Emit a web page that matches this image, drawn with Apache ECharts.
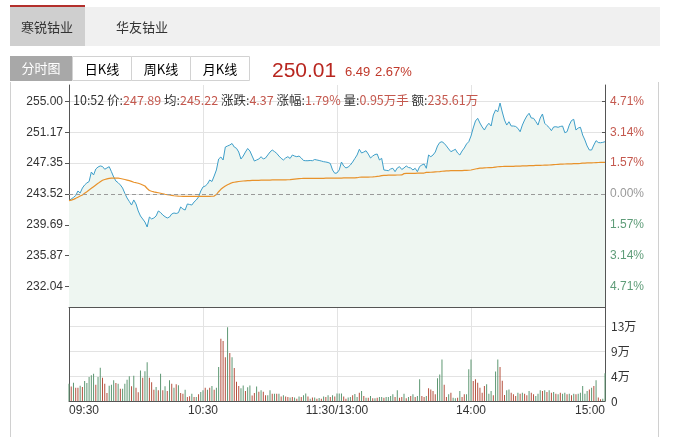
<!DOCTYPE html>
<html><head><meta charset="utf-8">
<script src="https://cdn.jsdelivr.net/npm/echarts@6/dist/echarts.min.js"></script>
<style>html,body{margin:0;padding:0;background:#fff}#c{width:675px;height:437px}</style>
</head><body><div id="c"></div>
<script>
var basePrice = 243.52;
var priceTicks = [232.04, 235.87, 239.69, 243.52, 247.35, 251.17, 255.00];
var pctLabels = ['4.71%', '3.14%', '1.57%', '0.00%', '1.57%', '3.14%', '4.71%'];
var volTicks = [0, 4.333, 8.667, 13];
var volLabels = ['0', '4万', '9万', '13万'];
var xTickIndex = [0, 60, 120, 180, 240];
var xTickLabels = ['09:30', '10:30', '11:30/13:00', '14:00', '15:00'];

var price = [
242.70,242.90,243.09,243.33,243.89,243.64,244.26,244.64,244.89,245.07,
246.25,245.88,246.62,246.87,247.00,246.93,246.59,246.75,246.91,246.29,
245.63,245.13,244.92,244.64,244.26,243.60,243.02,242.59,242.15,242.78,
242.28,241.41,240.79,240.42,240.04,239.42,240.66,240.42,240.54,240.79,
241.41,241.22,240.91,240.70,240.54,240.66,241.04,241.16,241.10,241.20,
241.91,241.66,241.53,242.28,242.22,242.15,242.53,242.78,243.15,243.89,
244.39,244.51,244.76,245.26,245.07,245.75,246.50,247.86,248.11,247.74,
249.35,249.48,249.60,249.79,249.35,249.19,248.73,247.86,248.23,248.73,
249.17,248.86,248.23,247.61,247.74,247.86,248.15,247.86,247.99,248.36,
248.73,248.98,248.79,248.57,248.23,247.95,247.74,247.99,248.15,247.93,
248.36,248.23,248.15,248.23,247.99,247.68,247.65,247.65,247.68,247.65,
247.80,247.74,247.68,247.61,247.53,247.49,247.43,247.31,246.50,246.09,
246.13,246.50,247.49,247.00,246.75,246.87,247.12,247.49,247.93,248.36,
249.07,248.61,248.73,248.89,248.48,247.99,248.23,248.42,248.48,247.74,
247.95,246.50,246.46,246.41,246.62,246.71,246.29,246.75,246.91,246.56,
246.75,247.00,246.81,246.75,246.50,246.71,246.29,246.93,247.12,247.24,
246.71,248.36,248.15,248.36,248.73,249.48,249.91,250.01,249.81,249.48,
249.11,248.77,248.92,249.07,248.61,248.36,248.86,249.23,249.73,250.01,
250.72,251.71,252.58,252.92,252.33,251.84,251.46,251.96,252.30,251.96,
253.33,253.95,253.73,254.81,253.70,252.70,252.08,252.49,251.96,251.96,
251.90,251.67,251.25,252.08,252.70,253.20,253.54,252.95,252.92,252.52,
252.08,252.95,253.45,252.30,252.02,251.77,251.38,251.84,251.87,251.80,
251.90,251.96,251.13,251.25,252.08,252.64,252.79,251.46,251.71,251.80,
250.84,250.22,249.48,248.98,248.98,249.60,250.14,249.91,249.88,249.93,
250.01
];

var avgPrice = [
242.70,242.76,242.85,242.98,243.12,243.26,243.40,243.60,243.80,244.02,
244.22,244.43,244.64,244.84,245.05,245.22,245.32,245.40,245.46,245.49,
245.50,245.50,245.48,245.44,245.38,245.32,245.25,245.17,245.08,244.98,
244.92,244.85,244.76,244.64,244.51,244.20,243.95,243.86,243.79,243.73,
243.67,243.61,243.55,243.49,243.44,243.39,243.34,243.30,243.27,243.25,
243.24,243.23,243.23,243.22,243.22,243.22,243.22,243.22,243.22,243.22,
243.22,243.22,243.22,243.23,243.24,243.26,243.45,243.80,244.10,244.32,
244.51,244.66,244.80,244.92,244.98,245.03,245.07,245.10,245.13,245.15,
245.17,245.19,245.20,245.21,245.22,245.22,245.23,245.24,245.24,245.25,
245.25,245.26,245.27,245.27,245.27,245.28,245.28,245.28,245.29,245.30,
245.34,245.37,245.40,245.42,245.44,245.45,245.45,245.46,245.46,245.46,
245.47,245.47,245.47,245.47,245.47,245.48,245.48,245.48,245.48,245.49,
245.50,245.50,245.50,245.51,245.51,245.51,245.51,245.52,245.52,245.54,
245.60,245.61,245.61,245.62,245.62,245.63,245.64,245.66,245.70,245.74,
245.80,245.82,245.84,245.85,245.86,245.86,245.87,245.88,245.88,245.89,
246.05,246.07,246.08,246.08,246.09,246.09,246.10,246.10,246.11,246.12,
246.20,246.21,246.22,246.24,246.26,246.28,246.30,246.34,246.36,246.38,
246.40,246.41,246.41,246.42,246.42,246.43,246.43,246.44,246.45,246.47,
246.50,246.56,246.62,246.68,246.72,246.74,246.76,246.78,246.79,246.80,
246.82,246.86,246.90,246.92,246.93,246.94,246.95,246.95,246.96,246.96,
246.97,246.98,246.99,247.00,247.01,247.02,247.03,247.04,247.05,247.06,
247.07,247.08,247.09,247.10,247.11,247.12,247.14,247.16,247.18,247.20,
247.22,247.23,247.24,247.25,247.26,247.27,247.28,247.29,247.30,247.32,
247.35,247.36,247.37,247.38,247.39,247.40,247.42,247.43,247.44,247.44,
247.45
];

var volume = [
3.0,2.5,3.18,2.31,2.31,2.66,2.43,3.47,3.12,4.16,
4.45,4.74,2.83,4.16,5.78,4.04,3.0,1.39,2.66,2.83,
3.58,3.12,3.0,2.14,2.14,3.0,3.7,4.27,2.54,4.39,
2.31,1.5,5.3,4.04,5.14,6.7,4.04,3.23,1.96,2.43,
1.85,4.74,1.85,2.54,1.73,3.58,3.0,2.31,2.89,2.71,
1.39,1.27,1.96,0.69,0.81,1.27,0.69,0.69,1.16,1.56,
1.85,2.3,1.96,2.3,2.6,1.96,2.3,5.9,10.8,10.4,
7.6,12.8,8.3,7.6,5.7,3.35,2.6,2.2,2.7,1.73,
2.4,2.7,0.95,1.4,2.5,1.6,1.85,1.6,1.0,1.0,
1.85,1.27,1.27,1.27,1.27,0.8,1.0,0.8,0.7,0.6,
0.7,0.6,0.4,0.8,0.7,1.0,1.3,0.8,0.4,0.6,
0.6,0.4,0.5,0.4,0.8,0.7,1.0,0.7,1.0,0.8,
1.3,1.3,1.3,0.8,0.4,0.6,0.7,1.0,1.2,0.7,
1.44,1.73,0.87,0.58,0.58,0.87,0.46,0.46,0.58,0.69,
0.69,0.58,0.69,0.69,0.87,1.15,0.69,1.85,0.58,0.69,
1.27,0.46,0.69,0.87,1.15,0.69,0.87,3.75,0.87,0.69,
0.87,2.2,2.0,1.73,1.15,3.93,4.6,7.2,2.8,0.69,
1.15,1.44,0.58,0.46,0.58,1.73,0.69,1.15,1.15,5.5,
7.2,3.47,3.75,3.18,2.3,1.44,2.6,2.9,1.27,1.73,
1.0,5.1,7.2,5.9,3.5,1.04,1.85,2.0,1.44,1.15,
0.87,1.44,1.27,1.44,1.27,1.0,1.73,1.44,1.15,0.87,
1.27,1.85,1.73,1.85,1.56,1.85,1.44,1.56,1.27,1.15,
1.44,1.27,1.44,1.15,1.27,1.0,1.27,1.15,1.27,1.44,
2.6,1.27,1.73,2.0,2.3,2.6,3.6,0.6,0.3,0.4,
4.8
];

// r = red bar, g = green bar
var volDir = 'grgrrgrggg' + 'ggrggrrrgg' + 'grgrggggrg' + 'rrgrggrrrg' + 'rgrgrgrgrg' +
  'rrgrrgrgrg' + 'grgrgrggrr' + 'rgrgrrrggr' + 'ggrrgrgrrg' + 'grgrgrgrrg' +
  'rgrgrggrgr' + 'grgrgrgrgr' + 'gggrrggrgg' + 'rgrgrgrgrg' + 'grggggrgrr' +
  'grgrgrggrr' + 'grrrrgggrr' + 'grggrgrrgg' + 'grrrrrrggg' + 'rggrrrggrr' +
  'rgrgrrgrrg' + 'ggrgrgrgrg' + 'rggrgrgrgg' + 'gggrgrgrrg' + 'g';

// minute categories
var times = [];
(function () {
  function pad(n) { return (n < 10 ? '0' : '') + n; }
  for (var i = 0; i <= 240; i++) {
    var m = i <= 120 ? 9 * 60 + 30 + i : 13 * 60 + (i - 120);
    times.push(pad(Math.floor(m / 60)) + ':' + pad(m % 60));
  }
})();

var RED = '#c4584e', GREEN = '#5e9c78', GRID = '#e3e3e3', AXIS = '#555';
var FONT = '"Liberation Sans", "Noto Sans CJK SC", sans-serif';
var CJK = '"Noto Sans CJK SC", "Liberation Sans", sans-serif';
var pMin = 229.49, pMax = 257.05;

function xLabelFmt(v, idx) { var k = xTickIndex.indexOf(idx); return k >= 0 ? xTickLabels[k] : ''; }
function isXTick(idx) { return xTickIndex.indexOf(idx) >= 0; }
function isInnerXTick(idx) { return idx > 0 && idx < 240 && isXTick(idx); }

var chart = echarts.init(document.getElementById('c'), null, { renderer: 'canvas' });
var tabRich = { a: { fontSize: 13, fontFamily: CJK, color: '#333', lineHeight: 16 }, k: { fontSize: 13, fontFamily: CJK, color: '#8f9a86', lineHeight: 16 } };
var option = {
  animation: false,
  textStyle: { fontFamily: FONT },
  grid: [
    { left: 69, top: 85, width: 536, height: 222 },
    { left: 69, top: 307, width: 536, height: 94 }
  ],
  xAxis: [
    { type: 'category', gridIndex: 0, data: times, boundaryGap: false,
      axisLine: { show: true, lineStyle: { color: AXIS, width: 1 } },
      axisTick: { show: false }, axisLabel: { show: false },
      splitLine: { show: true, interval: function (i) { return isInnerXTick(i); }, lineStyle: { color: GRID } } },
    { type: 'category', gridIndex: 1, data: times, boundaryGap: false,
      axisLine: { show: true, lineStyle: { color: AXIS, width: 1 } },
      axisTick: { show: false },
      axisLabel: { show: true, interval: function (i) { return isXTick(i); }, formatter: xLabelFmt,
        color: '#333', fontSize: 12, fontFamily: FONT, margin: 4, alignMinLabel: 'left', alignMaxLabel: 'right' },
      splitLine: { show: true, interval: function (i) { return isInnerXTick(i); }, lineStyle: { color: GRID } } }
  ],
  yAxis: [
    { type: 'value', gridIndex: 0, position: 'left', min: pMin, max: pMax, scale: true,
      axisLine: { show: true, lineStyle: { color: AXIS } },
      axisTick: { show: true, length: 4, customValues: priceTicks, lineStyle: { color: AXIS } },
      axisLabel: { customValues: priceTicks, color: '#333', fontSize: 12, fontFamily: FONT, margin: 6,
        formatter: function (v) { return Number(v).toFixed(2); } },
      splitLine: { show: true, lineStyle: { color: GRID } } },
    { type: 'value', gridIndex: 0, position: 'right', min: pMin, max: pMax, scale: true,
      axisLine: { show: true, lineStyle: { color: AXIS } },
      axisTick: { show: true, length: 3, inside: true, customValues: priceTicks, lineStyle: { color: AXIS } },
      axisLabel: { customValues: priceTicks, fontSize: 12, fontFamily: FONT, margin: 5,
        formatter: function (v) {
          var k = -1, d = 1e9;
          priceTicks.forEach(function (t, j) { var e = Math.abs(t - v); if (e < d) { d = e; k = j; } });
          return pctLabels[priceTicks.length - 1 - k];
        },
        color: function (v) { v = Number(v); return Math.abs(v - basePrice) < 0.01 ? '#9a9a9a' : (v > basePrice ? RED : GREEN); } },
      splitLine: { show: false } },
    { type: 'value', gridIndex: 1, position: 'left', min: 0, max: 16.29,
      axisLine: { show: true, lineStyle: { color: AXIS } },
      axisTick: { show: false, customValues: volTicks }, axisLabel: { show: false, customValues: volTicks },
      splitLine: { show: true, lineStyle: { color: GRID } } },
    { type: 'value', gridIndex: 1, position: 'right', min: 0, max: 16.29,
      axisLine: { show: true, lineStyle: { color: AXIS } },
      axisTick: { show: false, customValues: volTicks },
      axisLabel: { customValues: volTicks, color: '#333', fontSize: 12, fontFamily: CJK, margin: 6,
        formatter: function (v) {
          var k = 0, d = 1e9;
          volTicks.forEach(function (t, j) { var e = Math.abs(t - v); if (e < d) { d = e; k = j; } });
          return volLabels[k];
        } },
      splitLine: { show: false } }
  ],
  series: [
    { name: 'price', type: 'line', xAxisIndex: 0, yAxisIndex: 0, data: price, symbol: 'none', silent: true,
      lineStyle: { color: '#3d9ec9', width: 1 },
      areaStyle: { color: '#eef6f1', opacity: 1, origin: 'start' },
      markLine: { silent: true, symbol: ['none', 'none'], label: { show: false },
        lineStyle: { color: '#9a9a9a', type: [4, 3], width: 1 }, data: [{ yAxis: basePrice }] },
      z: 3 },
    { name: 'avg', type: 'line', xAxisIndex: 0, yAxisIndex: 0, data: avgPrice, symbol: 'none', silent: true,
      lineStyle: { color: '#e8922b', width: 1.2 }, z: 4 },
    { name: 'vol', type: 'bar', xAxisIndex: 1, yAxisIndex: 2, data: volume, barWidth: 1, silent: true,
      itemStyle: { color: function (p) { return volDir.charAt(p.dataIndex) === 'r' ? '#b5513f' : '#5e9873'; } } }
  ],
  graphic: [
    { type: 'rect', shape: { x: 10, y: 7, width: 650, height: 39 }, style: { fill: '#f0f0f0' }, silent: true },
    { type: 'rect', shape: { x: 10, y: 7, width: 75, height: 39 }, style: { fill: '#cfcfcf' }, silent: true },
    { type: 'rect', shape: { x: 10, y: 5, width: 75, height: 2 }, style: { fill: '#b3302c' }, silent: true },
    { type: 'text', x: 47, y: 27, style: { text: '寒锐钴业', font: '13px ' + CJK, fill: '#333', align: 'center', verticalAlign: 'middle' }, silent: true },
    { type: 'text', x: 142, y: 27, style: { text: '华友钴业', font: '13px ' + CJK, fill: '#333', align: 'center', verticalAlign: 'middle' }, silent: true },
    { type: 'rect', shape: { x: 10, y: 56, width: 62, height: 25 }, style: { fill: '#a8a8a8' }, silent: true },
    { type: 'text', x: 41, y: 68.5, style: { text: '分时图', font: '13px ' + CJK, fill: '#fff', align: 'center', verticalAlign: 'middle' }, silent: true },
    { type: 'rect', shape: { x: 72.5, y: 56.5, width: 59, height: 24 }, style: { fill: '#fff', stroke: '#d2d2d2', lineWidth: 1 }, silent: true },
    { type: 'rect', shape: { x: 131.5, y: 56.5, width: 59, height: 24 }, style: { fill: '#fff', stroke: '#d2d2d2', lineWidth: 1 }, silent: true },
    { type: 'rect', shape: { x: 190.5, y: 56.5, width: 59, height: 24 }, style: { fill: '#fff', stroke: '#d2d2d2', lineWidth: 1 }, silent: true },
    { type: 'text', x: 102, y: 69, style: { text: '{a|日}{k|K}{a|线}', align: 'center', verticalAlign: 'middle', rich: tabRich }, silent: true },
    { type: 'text', x: 161, y: 69, style: { text: '{a|周}{k|K}{a|线}', align: 'center', verticalAlign: 'middle', rich: tabRich }, silent: true },
    { type: 'text', x: 220, y: 69, style: { text: '{a|月}{k|K}{a|线}', align: 'center', verticalAlign: 'middle', rich: tabRich }, silent: true },
    { type: 'text', x: 272, y: 71, style: { text: '250.01', font: '21px ' + FONT, fill: '#b8261f', verticalAlign: 'middle' }, silent: true },
    { type: 'text', x: 345, y: 72, style: { text: '6.49', font: '13px ' + FONT, fill: '#c0392b', verticalAlign: 'middle' }, silent: true },
    { type: 'text', x: 375, y: 72, style: { text: '2.67%', font: '13px ' + FONT, fill: '#c0392b', verticalAlign: 'middle' }, silent: true },
    { type: 'line', shape: { x1: 10.5, y1: 82, x2: 10.5, y2: 437 }, style: { stroke: '#d0d0d0', lineWidth: 1 }, silent: true },
    { type: 'line', shape: { x1: 658.5, y1: 82, x2: 658.5, y2: 437 }, style: { stroke: '#d0d0d0', lineWidth: 1 }, silent: true },
    { type: 'text', x: 73, y: 100, z: 10, style: {
      text: '{k|10:52 价:}{v|247.89}{k| 均:}{v|245.22}{k| 涨跌:}{v|4.37}{k| 涨幅:}{v|1.79%}{k| 量:}{v|0.95万手}{k| 额:}{v|235.61万}',
      verticalAlign: 'middle',
      rich: { k: { font: '12.5px ' + CJK, fill: '#333' }, v: { font: '12.5px ' + CJK, fill: '#c4584e' } } }, silent: true }
  ]
};
chart.setOption(option);
</script>
</body></html>
